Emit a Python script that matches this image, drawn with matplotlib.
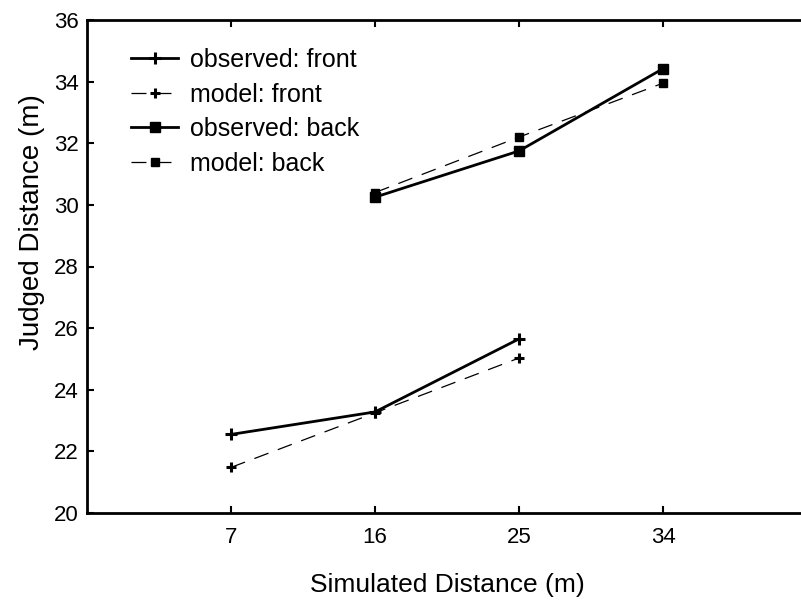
import numpy as np
import matplotlib
matplotlib.use("Agg")
import matplotlib.pyplot as plt

plt.rcParams['font.family'] = ['Liberation Sans', 'DejaVu Sans']

# simulated distances (categorical positions on the x axis)
dist_labels = ['7', '16', '25', '34']
pos = np.array([1, 2, 3, 4])

obs_front = [22.55, 23.28, 25.65]
mod_front = [21.48, 23.25, 25.03]
obs_back = [30.25, 31.75, 34.42]
mod_back = [30.40, 32.20, 33.95]

fig = plt.figure(figsize=(8.01, 6.09), dpi=100)
ax = fig.add_axes([87/801, 1 - 513/609, 720/801, 493/609])

ax.plot(pos[:3], obs_front, '-', color='k', lw=2, marker='+', ms=9, mew=2.2, label='observed: front')
ax.plot(pos[:3], mod_front, '--', color='k', lw=0.9, dashes=(12, 8), marker='+', ms=7, mew=2.2, label='model: front')
ax.plot(pos[1:], obs_back, '-', color='k', lw=2, marker='s', ms=6.5, label='observed: back')
ax.plot(pos[1:], mod_back, '--', color='k', lw=0.9, dashes=(12, 8), marker='s', ms=5.5, label='model: back')

ax.set_xlim(0, 5)
ax.set_ylim(20, 36)
ax.set_xticks(pos)
ax.set_xticklabels(dist_labels)
ax.set_yticks(np.arange(20, 37, 2))
ax.tick_params(direction='in', length=5, width=1.5, labelsize=16, top=True, pad=10)
ax.tick_params(axis='y', pad=6)
for s in ['left', 'bottom', 'top']:
    ax.spines[s].set_linewidth(2)
ax.spines['right'].set_visible(False)

ax.set_xlabel('Simulated Distance (m)', fontsize=19, labelpad=18)
ax.set_ylabel('Judged Distance (m)', fontsize=20)
ax.yaxis.set_label_coords(-0.058, 0.59)

ax.legend(loc='upper left', frameon=False, fontsize=18, handlelength=1.9,
          handletextpad=0.45, borderaxespad=0, borderpad=0, labelspacing=0.42,
          bbox_to_anchor=(0.061, 0.943))

fig.savefig('out.png', dpi=100)
